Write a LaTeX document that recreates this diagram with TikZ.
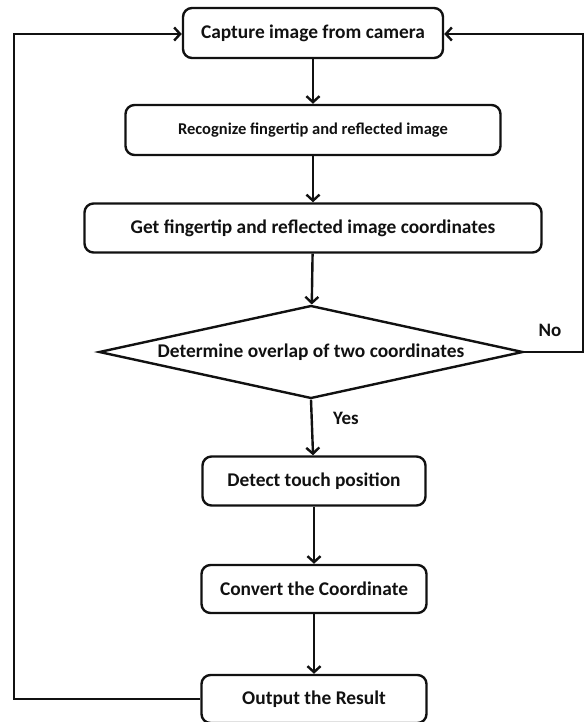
\documentclass[tikz,border=0pt]{standalone}
\usepackage{fontspec}
\setmainfont{Carlito}
\usetikzlibrary{arrows.meta,shapes.geometric}
\definecolor{ink}{HTML}{111111}

\tikzset{
  stepbox/.style={draw=ink,line width=2.4pt,rounded corners=9pt,
    inner sep=0pt,align=center,font=\fontsize{19.4}{23}\selectfont\bfseries},
  decision/.style={draw=ink,line width=2.4pt,diamond,aspect=4.56,
    inner sep=0pt,font=\fontsize{19.4}{23}\selectfont\bfseries},
  flow/.style={draw=ink,line width=2.4pt,->},
  tag/.style={font=\fontsize{19}{23}\selectfont\bfseries,text=ink}
}

\begin{document}
\begin{tikzpicture}[x=1pt,y=-1pt,text=ink,
    >={Straight Barb[length=6pt,width=13pt]}]
  \useasboundingbox (0,0) rectangle (585,722);

  \node[stepbox,minimum width=260pt,minimum height=50pt] (cap) at (313,33)
    {Capture image from camera};
  \node[stepbox,minimum width=375pt,minimum height=50pt,
    font=\fontsize{16.5}{20}\selectfont\bfseries] (rec) at (313,130)
    {Recognize fingertip and reflected image};
  \node[stepbox,minimum width=457pt,minimum height=49pt] (get) at (313,228)
    {Get fingertip and reflected image coordinates};
  \node[decision,minimum width=424pt,minimum height=93pt] (dec) at (311,352)
    {Determine overlap of two coordinates};
  \node[stepbox,minimum width=223pt,minimum height=49pt] (det) at (314,481)
    {Detect touch position};
  \node[stepbox,minimum width=225pt,minimum height=48pt] (conv) at (314,589)
    {Convert the Coordinate};
  \node[stepbox,minimum width=225pt,minimum height=48pt] (out) at (314,699)
    {Output the Result};

  % main column
  \draw[flow] (cap) -- (rec);
  \draw[flow] (rec) -- (get);
  \draw[flow] (get) -- (dec);
  \draw[flow] (dec.south) -- (det)
    node[tag,pos=0.33,right=17pt] {Yes};
  \draw[flow] (det) -- (conv);
  \draw[flow] (conv) -- (out);

  % feedback loops
  \coordinate (lft) at (14,34);
  \coordinate (rgt) at (583,34);
  \draw[flow] (out.west) -| (lft) -- (lft -| cap.west);
  \draw[flow] (dec.east) -| (rgt) -- (rgt -| cap.east);
  \node[tag] (no) at (550,330) {No};
\end{tikzpicture}
\end{document}
